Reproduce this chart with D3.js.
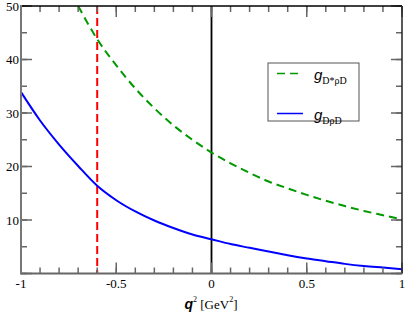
<!DOCTYPE html>
<html><head><meta charset="utf-8">
<script src="https://cdn.jsdelivr.net/npm/d3@7"></script>
<style>body{margin:0;background:#fff}svg{display:block}</style>
</head><body><svg id="c" width="407" height="315"></svg>
<script>
const greenQ = [-0.7,-0.6,-0.5,-0.4,-0.3,-0.2,-0.1,0,0.1,0.2,0.3,0.4,0.5,0.6,0.7,0.8,0.9,1];
const greenG = [50,43.8,38.9,34.6,30.9,27.7,25.0,22.6,20.6,18.8,17.2,15.9,14.7,13.6,12.6,11.7,10.9,10.1];
const blueQ = [-1,-0.9,-0.8,-0.7,-0.6,-0.5,-0.4,-0.3,-0.2,-0.1,0,0.1,0.2,0.3,0.4,0.5,0.6,0.7,0.8,0.9,1];
const blueG = [33.9,28.6,24.1,20.1,16.4,13.7,11.6,9.9,8.5,7.3,6.4,5.5,4.8,4.1,3.4,2.8,2.3,1.8,1.4,1.1,0.8];
const xTickLabels = [-1,-0.5,0,0.5,1];
const yTickLabels = [10,20,30,40,50];
const redLineQ = -0.6;
const zeroLineQ = 0;
const legendLabels = [{g:"g", sub:"D*ρD"},{g:"g", sub:"DρD"}];

const FONT = "'Liberation Serif', 'DejaVu Serif', serif";
const SANS = "'Liberation Sans', 'DejaVu Sans', sans-serif";
const svg = d3.select("#c");
const L=21, R=402, T=6, B=273.5;
const x = d3.scaleLinear().domain([-1,1]).range([L,R]);
const y = d3.scaleLinear().domain([0,50]).range([B,T]);

svg.append("defs").append("clipPath").attr("id","clip").append("rect")
  .attr("x",L).attr("y",T).attr("width",R-L).attr("height",B-T);

svg.append("line").attr("x1",x(zeroLineQ)).attr("x2",x(zeroLineQ)).attr("y1",T).attr("y2",B)
  .attr("stroke","#000").attr("stroke-width",1.8);
svg.append("line").attr("x1",x(redLineQ)).attr("x2",x(redLineQ)).attr("y1",T).attr("y2",B)
  .attr("stroke","#ff0000").attr("stroke-width",2).attr("stroke-dasharray","8,4");

const line = d3.line().x(d=>x(d[0])).y(d=>y(d[1])).curve(d3.curveMonotoneX);
const g = svg.append("g").attr("clip-path","url(#clip)");
g.append("path").datum(greenQ.map((q,i)=>[q,greenG[i]])).attr("d",line)
  .attr("fill","none").attr("stroke","#009900").attr("stroke-width",2).attr("stroke-dasharray","8,5");
g.append("path").datum(blueQ.map((q,i)=>[q,blueG[i]])).attr("d",line)
  .attr("fill","none").attr("stroke","#0000ff").attr("stroke-width",2);

const xMaj = d3.range(-1,1.0001,0.5), xMin = d3.range(-1,1.0001,0.1);
const yMaj = d3.range(0,50.001,10), yMin = d3.range(0,50.001,5);
const axG = svg.append("g");
function ticks(vals, len, col){
  vals.forEach(v=>{
    axG.append("line").attr("x1",x(v)).attr("x2",x(v)).attr("y1",B).attr("y2",B-len).attr("stroke",col).attr("stroke-width",1.5);
    axG.append("line").attr("x1",x(v)).attr("x2",x(v)).attr("y1",T).attr("y2",T+len).attr("stroke",col).attr("stroke-width",1.5);
  });
}
function yticks(vals,len,col){
  vals.forEach(v=>{
    axG.append("line").attr("y1",y(v)).attr("y2",y(v)).attr("x1",L).attr("x2",L+len).attr("stroke",col).attr("stroke-width",1.5);
    axG.append("line").attr("y1",y(v)).attr("y2",y(v)).attr("x1",R).attr("x2",R-len).attr("stroke",col).attr("stroke-width",1.5);
  });
}
ticks(xMin,6,"#666"); ticks(xMaj,11,"#666");
yticks(yMin,6,"#666"); yticks(yMaj,11,"#666");
axG.append("line").attr("x1",L).attr("x2",R).attr("y1",T).attr("y2",T).attr("stroke","#000").attr("stroke-width",1.5);
axG.append("line").attr("x1",R).attr("x2",R).attr("y1",T).attr("y2",B).attr("stroke","#222").attr("stroke-width",1.5);
axG.append("line").attr("x1",L).attr("x2",R).attr("y1",B).attr("y2",B).attr("stroke","#666").attr("stroke-width",2);
axG.append("line").attr("x1",L).attr("x2",L).attr("y1",T-1).attr("y2",B+1).attr("stroke","#777").attr("stroke-width",2);

const fmt = v => (v<0?"-":"") + String(Math.abs(v));
svg.selectAll(".xl").data(xTickLabels).join("text").attr("x",d=>x(d)).attr("y",288)
  .attr("text-anchor","middle").style("font-family",FONT).style("font-size","13px").text(fmt);
svg.selectAll(".yl").data(yTickLabels).join("text").attr("x",19).attr("y",d=>y(d)+4.5)
  .attr("text-anchor","end").style("font-family",FONT).style("font-size","13px").text(d=>d);

const t = svg.append("text").attr("x",211).attr("y",309).attr("text-anchor","middle")
  .style("font-family",FONT).style("font-size","13px");
t.append("tspan").style("font-style","italic").style("font-weight","bold").style("font-family",SANS).style("font-size","14px").text("q");
t.append("tspan").style("font-size","8px").attr("dy",-7).text("2");
t.append("tspan").attr("dy",7).text(" [GeV");
t.append("tspan").style("font-size","8px").attr("dy",-7).text("2");
t.append("tspan").attr("dy",7).text("]");

svg.append("rect").attr("x",268).attr("y",63).attr("width",91).attr("height",58)
  .attr("fill","#fff").attr("stroke","#555").attr("stroke-width",1);
const legY = [73.5,113.5];
const legStyle = [{c:"#009900",d:"8,5"},{c:"#0000ff",d:null}];
legendLabels.forEach((lab,i)=>{
  const ln = svg.append("line").attr("x1",277).attr("x2",303).attr("y1",legY[i]).attr("y2",legY[i])
    .attr("stroke",legStyle[i].c).attr("stroke-width",1.5);
  if(legStyle[i].d) ln.attr("stroke-dasharray",legStyle[i].d);
  const tx = svg.append("text").attr("x",314).attr("y",legY[i]+6).style("font-family",FONT).style("font-size","15px");
  tx.append("tspan").style("font-style","italic").style("font-family",SANS).text(lab.g);
  tx.append("tspan").style("font-size","10px").attr("dy",4).text(lab.sub);
});
</script></body></html>
